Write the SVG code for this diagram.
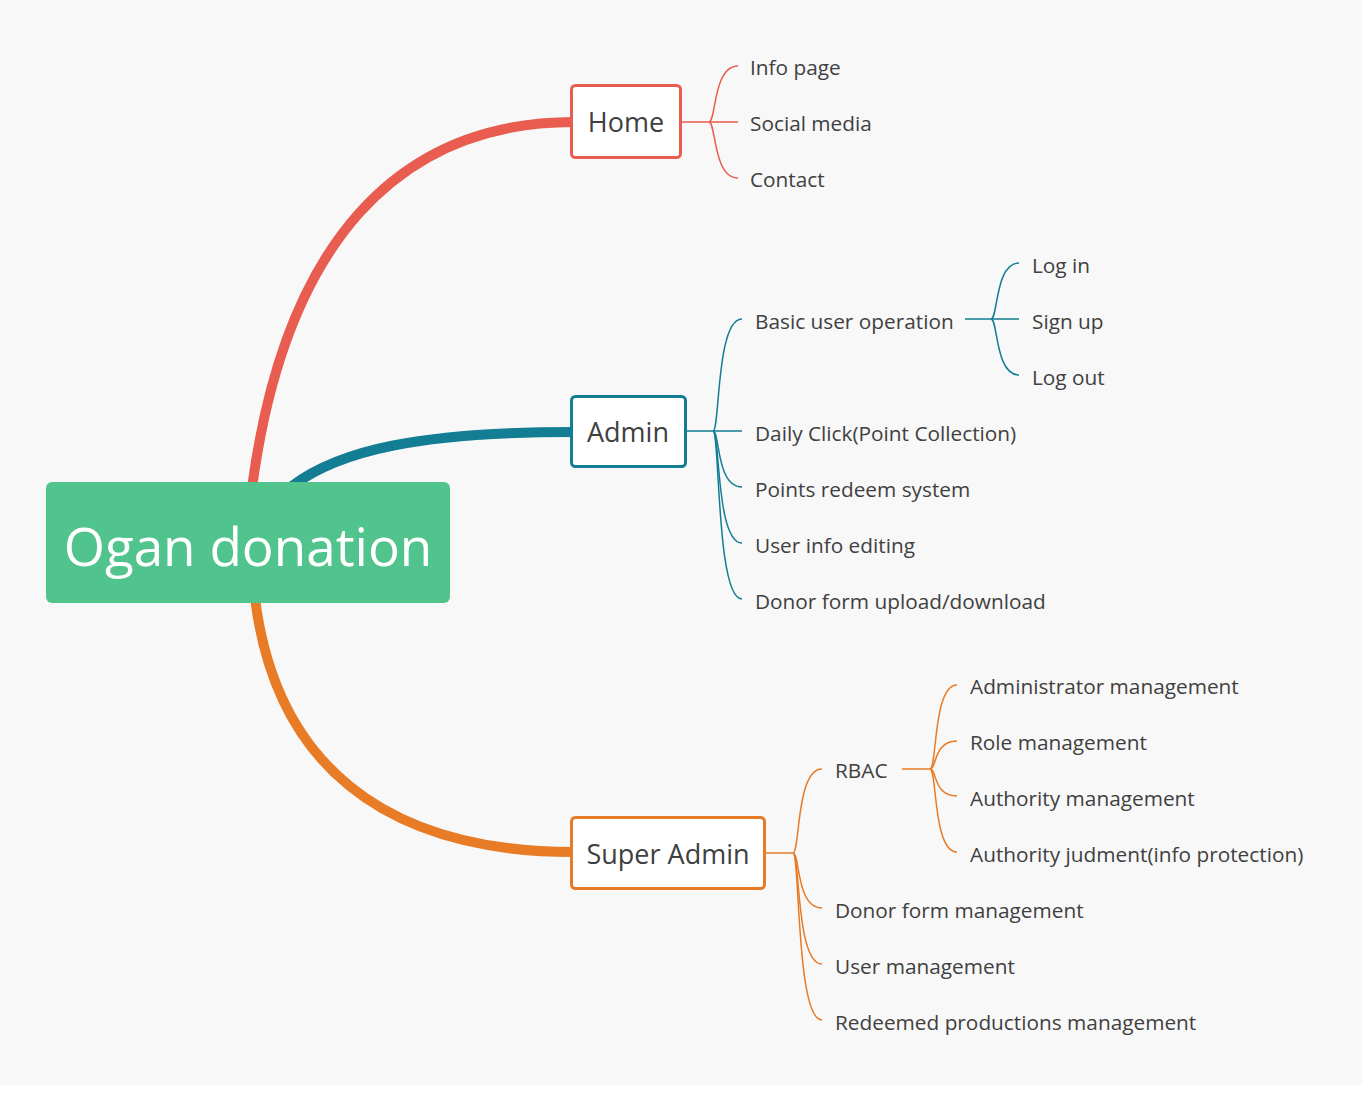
<svg xmlns="http://www.w3.org/2000/svg" width="1371" height="1093" viewBox="0 0 1371 1093">
<style>
.t{font-family:"Open Sans","Noto Sans","DejaVu Sans",sans-serif;font-size:20.8px;fill:#404040}
.h{font-family:"Open Sans","Noto Sans","DejaVu Sans",sans-serif;font-size:27px;fill:#404040;text-anchor:middle}
.box{fill:#ffffff;stroke-width:3}
.thin{fill:none;stroke-width:1.5}
.thick{fill:none;stroke-width:10}
</style>
<rect x="0" y="0" width="1371" height="1093" fill="#ffffff"/>
<rect x="0" y="0" width="1362" height="1085" fill="#f8f8f8"/>
<g id="connectors">
<path class="thick" stroke="#e85d4f" d="M252,488 C285,240 400,122 574,122"/>
<path class="thick" stroke="#137d94" d="M292,486 C340,450 420,432 574,432"/>
<path class="thick" stroke="#e87b25" d="M255,598 C275,760 380,852 574,852"/>
<g stroke="#e85d4f">
<path class="thin" d="M681,122 H738"/>
<path class="thin" d="M709,122 C716,122 713,66 738,66"/>
<path class="thin" d="M709,122 C716,122 713,178 738,178"/>
</g>
<g stroke="#137d94">
<path class="thin" d="M686,431 H742"/>
<path class="thin" d="M713,431 C720,431 716,319 742,319"/>
<path class="thin" d="M713,431 C720,431 716,487 742,487"/>
<path class="thin" d="M713,431 C720,431 716,543 742,543"/>
<path class="thin" d="M713,431 C720,431 716,599 742,599"/>
<path class="thin" d="M965,319 H1019"/>
<path class="thin" d="M991,319 C998,319 995,263 1019,263"/>
<path class="thin" d="M991,319 C998,319 995,375 1019,375"/>
</g>
<g stroke="#e87b25">
<path class="thin" d="M765,853 H793"/>
<path class="thin" d="M793,853 C800,853 796,769 822,769"/>
<path class="thin" d="M793,853 C800,853 796,908 822,908"/>
<path class="thin" d="M793,853 C800,853 796,964 822,964"/>
<path class="thin" d="M793,853 C800,853 796,1020 822,1020"/>
<path class="thin" d="M902,769 H930"/>
<path class="thin" d="M930,769 C937,769 933,685 957,685"/>
<path class="thin" d="M930,769 C937,769 933,741 957,741"/>
<path class="thin" d="M930,769 C937,769 933,796 957,796"/>
<path class="thin" d="M930,769 C937,769 933,852 957,852"/>
</g>
</g>
<g id="central">
<rect x="46" y="482" width="404" height="121" rx="6" fill="#51c48d"/>
<text x="248" y="566" text-anchor="middle" font-family="Open Sans,Noto Sans,sans-serif" font-size="53" fill="#ffffff">Ogan donation</text>
</g>
<g id="home">
<rect class="box" x="571.5" y="85.5" width="109" height="72" rx="4" stroke="#e85d4f"/>
<text class="h" x="626" y="132">Home</text>
</g>
<g id="admin">
<rect class="box" x="571.5" y="396.5" width="114" height="70" rx="4" stroke="#137d94"/>
<text class="h" x="628" y="442">Admin</text>
</g>
<g id="superadmin">
<rect class="box" x="571.5" y="817.5" width="193" height="71" rx="4" stroke="#e87b25"/>
<text class="h" x="668" y="864">Super Admin</text>
</g>
<g id="home-children">
<text class="t" x="750" y="75">Info page</text>
<text class="t" x="750" y="131">Social media</text>
<text class="t" x="750" y="187">Contact</text>
</g>
<g id="admin-children">
<text class="t" x="755" y="329">Basic user operation</text>
<text class="t" x="755" y="441">Daily Click(Point Collection)</text>
<text class="t" x="755" y="497">Points redeem system</text>
<text class="t" x="755" y="553">User info editing</text>
<text class="t" x="755" y="609">Donor form upload/download</text>
<text class="t" x="1032" y="273">Log in</text>
<text class="t" x="1032" y="329">Sign up</text>
<text class="t" x="1032" y="385">Log out</text>
</g>
<g id="superadmin-children">
<text class="t" x="835" y="778">RBAC</text>
<text class="t" x="835" y="918">Donor form management</text>
<text class="t" x="835" y="974">User management</text>
<text class="t" x="835" y="1030">Redeemed productions management</text>
<text class="t" x="970" y="694">Administrator management</text>
<text class="t" x="970" y="750">Role management</text>
<text class="t" x="970" y="806">Authority management</text>
<text class="t" x="970" y="862">Authority judment(info protection)</text>
</g>
</svg>
